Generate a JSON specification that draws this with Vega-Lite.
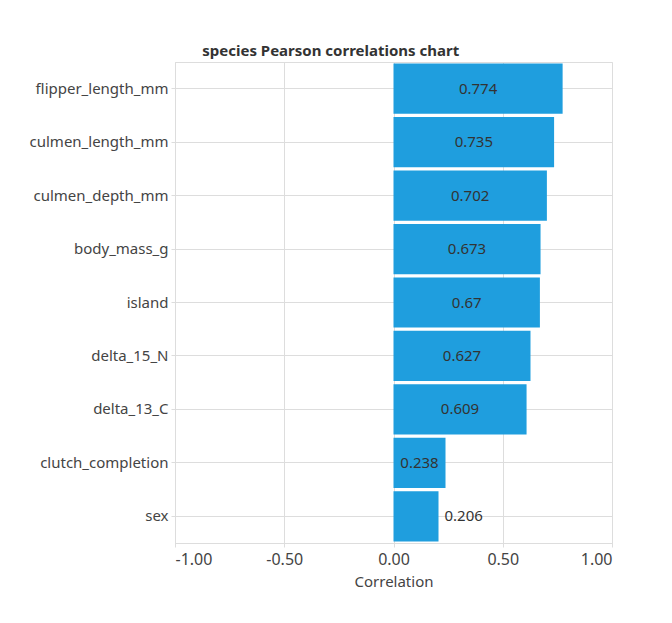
{
  "$schema": "https://vega.github.io/schema/vega-lite/v6.json",
  "width": 437,
  "height": 481,
  "padding": {"left": 29, "top": 44, "right": 20, "bottom": 10},
  "background": "white",
  "title": {
    "text": "species Pearson correlations chart",
    "anchor": "middle",
    "frame": "bounds",
    "fontSize": 15,
    "fontWeight": "bold",
    "font": "Noto Sans",
    "color": "#333333",
    "offset": 3,
    "dx": 10
  },
  "data": {
    "values": [
      {"feature": "flipper_length_mm", "corr": 0.774},
      {"feature": "culmen_length_mm", "corr": 0.735},
      {"feature": "culmen_depth_mm", "corr": 0.702},
      {"feature": "body_mass_g", "corr": 0.673},
      {"feature": "island", "corr": 0.67},
      {"feature": "delta_15_N", "corr": 0.627},
      {"feature": "delta_13_C", "corr": 0.609},
      {"feature": "clutch_completion", "corr": 0.238},
      {"feature": "sex", "corr": 0.206}
    ]
  },
  "transform": [{"calculate": "datum.corr / 2", "as": "mid"}],
  "encoding": {
    "y": {
      "field": "feature",
      "type": "nominal",
      "sort": null,
      "title": null,
      "scale": {"paddingInner": 0.06, "paddingOuter": 0.03},
      "axis": {"labelFontSize": 15, "labelPadding": 3, "tickSize": 4}
    }
  },
  "layer": [
    {
      "mark": {"type": "bar", "color": "#1f9ede"},
      "encoding": {
        "x": {
          "field": "corr",
          "type": "quantitative",
          "title": "Correlation",
          "scale": {"domain": [-1, 1]},
          "axis": {
            "values": [-1, -0.5, 0, 0.5, 1],
            "labelExpr": "replace(format(datum.value, '.2f'), '\u2212', '-')",
            "labelFontSize": 16,
            "labelPadding": 4,
            "titleFontSize": 15,
            "titleFontWeight": "normal",
            "tickSize": 4,
            "titlePadding": 7
          }
        }
      }
    },
    {
      "transform": [{"filter": "datum.corr > 0.22"}],
      "mark": {"type": "text", "fontSize": 15, "color": "#333333"},
      "encoding": {
        "x": {"field": "mid", "type": "quantitative"},
        "text": {"field": "corr", "type": "quantitative"}
      }
    },
    {
      "transform": [{"filter": "datum.corr <= 0.22"}],
      "mark": {"type": "text", "fontSize": 15, "color": "#333333", "align": "left", "dx": 6},
      "encoding": {
        "x": {"field": "corr", "type": "quantitative"},
        "text": {"field": "corr", "type": "quantitative"}
      }
    }
  ],
  "config": {
    "font": "Noto Sans",
    "view": {"stroke": "#dddddd"},
    "axis": {
      "labelColor": "#444444",
      "titleColor": "#444444",
      "labelFont": "Noto Sans",
      "titleFont": "Noto Sans",
      "grid": true,
      "gridColor": "#dddddd",
      "domainColor": "#dddddd",
      "tickColor": "#dddddd"
    },
    "axisY": {"grid": true, "gridColor": "#dddddd"}
  }
}
